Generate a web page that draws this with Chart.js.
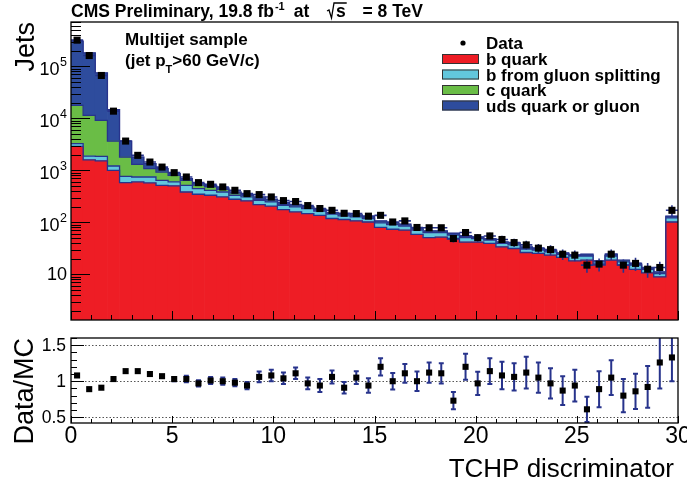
<!DOCTYPE html>
<html>
<head>
<meta charset="utf-8">
<script src="https://cdn.jsdelivr.net/npm/chart.js@4.4.0/dist/chart.umd.min.js"></script>
<style>
  html, body { margin: 0; padding: 0; background: #fff; }
  #wrap { position: relative; width: 687px; height: 486px; overflow: hidden; }
  canvas { position: absolute; left: 0; }
  #mainCanvas { top: 0; }
  #ratioCanvas { top: 330px; }
</style>
</head>
<body>
<div id="wrap">
  <canvas id="mainCanvas" width="687" height="330"></canvas>
  <canvas id="ratioCanvas" width="687" height="156"></canvas>
</div>
<script>
// Bin centres of the TCHP discriminator (bins of 0.6)
const binCenters = [0.3, 0.9, 1.5, 2.1, 2.7, 3.3, 3.9, 4.5, 5.1, 5.7,
    6.3, 6.9, 7.5, 8.1, 8.7, 9.3, 9.9, 10.5, 11.1, 11.7,
    12.3, 12.9, 13.5, 14.1, 14.7, 15.3, 15.9, 16.5, 17.1, 17.7,
    18.3, 18.9, 19.5, 20.1, 20.7, 21.3, 21.9, 22.5, 23.1, 23.7,
    24.3, 24.9, 25.5, 26.1, 26.7, 27.3, 27.9, 28.5, 29.1, 29.7];

// Stacked MC components (jets per bin)
const bQuark = [2900, 1600, 1530, 1005, 583, 600, 574, 518, 503, 385,
    348, 333, 309, 279, 259, 221, 205, 177, 159, 148,
    137, 119, 114, 107, 102, 80, 74, 71, 59, 51,
    52, 48, 42, 42, 39.4, 33.9, 31.5, 26.4, 25.3, 23.5,
    21.2, 18.2, 18.8, 15.1, 18.8, 15.1, 12.5, 10.7, 9.0, 102];
const bGluonSplit = [370, 290, 340, 211, 188, 148, 174, 128, 97, 133,
    100, 82, 76, 54, 50, 46, 43, 37, 40, 37,
    29, 25, 20, 21, 17, 18, 17, 14, 12, 13,
    12, 9, 9, 7, 6.1, 5.5, 5.5, 4.2, 4.0, 3.7,
    3.3, 4.2, 3.6, 2.4, 3.6, 2.4, 2.6, 2.3, 1.4, 20];
const cQuark = [14500, 9530, 7290, 2454, 1039, 562, 335, 285, 205, 128,
    75, 70, 50, 35, 22, 12, 10, 8, 8, 6,
    5, 4, 4, 4, 3, 3, 3, 3, 2, 2,
    2, 2, 2, 1.3, 1.2, 1.0, 1.2, 1.1, 0.8, 0.7,
    0.5, 0.4, 0.7, 0.3, 0.7, 0.5, 0.4, 0.2, 0.3, 3];
const udsGluon = [290000, 170600, 65840, 11030, 1860, 500, 267, 152, 63, 50,
    35, 33, 25, 17, 12, 30, 22, 18, 16, 10,
    10, 8, 7, 7, 7, 6, 5, 5, 4, 3,
    3, 3, 3, 2.4, 2.3, 1.9, 2.3, 2.2, 1.4, 1.4,
    1.0, 0.7, 1.4, 0.4, 1.4, 0.8, 0.8, 0.4, 0.5, 7];

// Data
const dataCounts = [320000, 162000, 67000, 13800, 3670, 1950, 1450, 1160, 906, 748,
    583, 541, 481, 415, 358, 343, 309, 263, 252, 211,
    185, 171, 150, 148, 132, 137, 102, 107, 80, 79,
    79, 49, 64, 51, 55, 47, 41, 37, 32, 30,
    24.5, 23.5, 15.1, 15.8, 24.5, 15.1, 16.3, 12.6, 13.6, 171];

// Data/MC ratio and its uncertainty
const ratioValues = [1.08, 0.89, 0.91, 1.03, 1.14, 1.14, 1.10, 1.07, 1.03, 1.03,
    0.97, 1.01, 1.00, 0.98, 0.94, 1.06, 1.08, 1.04, 1.11, 0.97,
    0.94, 1.06, 0.91, 1.05, 0.94, 1.20, 1.00, 1.11, 1.00, 1.12,
    1.11, 0.73, 1.20, 0.97, 1.14, 1.08, 1.06, 1.12, 1.05, 0.97,
    0.87, 0.94, 0.61, 0.89, 1.05, 0.80, 0.86, 0.92, 1.26, 1.33];
const ratioErrors = [0.005, 0.005, 0.007, 0.01, 0.015, 0.02, 0.025, 0.025, 0.03, 0.045,
    0.045, 0.05, 0.05, 0.05, 0.05, 0.075, 0.08, 0.08, 0.08, 0.08,
    0.09, 0.09, 0.08, 0.09, 0.10, 0.12, 0.115, 0.13, 0.135, 0.14,
    0.14, 0.12, 0.18, 0.16, 0.18, 0.19, 0.19, 0.22, 0.21, 0.21,
    0.20, 0.22, 0.175, 0.25, 0.24, 0.23, 0.245, 0.29, 0.36, 0.33];

// Tick labels
const xTickLabels = [0, 5, 10, 15, 20, 25, 30];
const yTickExponents = [1, 2, 3, 4, 5];
const ratioTickLabels = [0.5, 1, 1.5];

const FONT = '"Liberation Sans", Arial, Helvetica, sans-serif';
const RED = '#ee1d25';
const CYAN = '#62c7dd';
const GREEN = '#6abd46';
const BLUE = '#2e4c9d';
const LINE = '#27338c';

function toXY(values) {
    return binCenters.map((x, i) => ({ x: x, y: values[i] }));
}

// Step outline on top of every stacked histogram
const outlinePlugin = {
    id: 'outline',
    afterDatasetDraw(chart, args) {
        const meta = args.meta;
        if (meta.type !== 'bar') return;
        const ctx = chart.ctx;
        const a = chart.chartArea;
        ctx.save();
        ctx.beginPath();
        ctx.rect(a.left, a.top, a.right - a.left, a.bottom - a.top);
        ctx.clip();
        ctx.strokeStyle = LINE;
        ctx.lineWidth = 1.3;
        ctx.beginPath();
        meta.data.forEach((bar, i) => {
            const p = bar.getProps(['x', 'y', 'width'], true);
            const l = p.x - p.width / 2;
            const r = p.x + p.width / 2;
            if (i === 0) ctx.moveTo(l, p.y); else ctx.lineTo(l, p.y);
            ctx.lineTo(r, p.y);
        });
        ctx.stroke();
        ctx.restore();
    },
    beforeDatasetDraw(chart, args) {
        // error bars for the data points
        if (args.meta.type !== 'line') return;
        const ctx = chart.ctx;
        const xs = chart.scales.x;
        const ys = chart.scales.y;
        const half = (xs.getPixelForValue(binCenters[1]) - xs.getPixelForValue(binCenters[0])) / 2;
        ctx.save();
        ctx.strokeStyle = LINE;
        ctx.lineWidth = 1.6;
        ctx.beginPath();
        dataCounts.forEach((v, i) => {
            const px = xs.getPixelForValue(binCenters[i]);
            const py = ys.getPixelForValue(v);
            const rel = ratioErrors[i] / ratioValues[i];
            ctx.moveTo(px - half, py);
            ctx.lineTo(px + half, py);
            ctx.moveTo(px, ys.getPixelForValue(v * (1 + rel)));
            ctx.lineTo(px, ys.getPixelForValue(v * (1 - rel)));
        });
        ctx.stroke();
        ctx.restore();
    },
    afterDraw(chart) {
        const ctx = chart.ctx;
        const a = chart.chartArea;
        const xs = chart.scales.x;
        const ys = chart.scales.y;
        ctx.save();
        ctx.strokeStyle = '#000';
        ctx.lineWidth = 1;
        ctx.beginPath();
        for (let v = 0; v <= 30; v++) {
            const px = Math.round(xs.getPixelForValue(v)) + 0.5;
            const len = v % 5 === 0 ? 9 : 5;
            ctx.moveTo(px, a.bottom);
            ctx.lineTo(px, a.bottom - len);
        }
        for (let e = 0; e <= 5; e++) {
            for (let m = 1; m <= 9; m++) {
                const v = m * Math.pow(10, e);
                if (v < ys.min || v > ys.max) continue;
                const py = Math.round(ys.getPixelForValue(v)) + 0.5;
                const len = m === 1 ? 19 : 10;
                ctx.moveTo(a.left, py);
                ctx.lineTo(a.left + len, py);
            }
        }
        ctx.stroke();
        ctx.lineWidth = 1.3;
        ctx.strokeRect(a.left, a.top, a.right - a.left, a.bottom - a.top);

        // y tick labels
        ctx.fillStyle = '#000';
        ctx.textAlign = 'right';
        ctx.textBaseline = 'middle';
        yTickExponents.forEach(e => {
            const py = ys.getPixelForValue(Math.pow(10, e));
            if (e === 1) {
                ctx.font = '18px ' + FONT;
                ctx.fillText('10', 67, py + 1);
            } else {
                ctx.font = '12.5px ' + FONT;
                const s = String(e);
                const w = ctx.measureText(s).width;
                ctx.fillText(s, 67, py - 3.5);
                ctx.font = '18px ' + FONT;
                ctx.fillText('10', 67 - w - 0.5, py + 3.3);
            }
        });

        // y axis title
        ctx.save();
        ctx.translate(34, 22);
        ctx.rotate(-Math.PI / 2);
        ctx.textAlign = 'right';
        ctx.textBaseline = 'alphabetic';
        ctx.font = '27px ' + FONT;
        ctx.fillText('Jets', 0, 0);
        ctx.restore();

        // title
        ctx.textAlign = 'left';
        ctx.textBaseline = 'alphabetic';
        ctx.font = 'bold 17.5px ' + FONT;
        ctx.fillText('CMS Preliminary, 19.8 fb', 71, 17);
        let tx = 71 + ctx.measureText('CMS Preliminary, 19.8 fb').width;
        ctx.font = 'bold 11px ' + FONT;
        ctx.fillText('-1', tx + 1, 10);
        tx += ctx.measureText('-1').width + 1;
        ctx.font = 'bold 17.5px ' + FONT;
        ctx.fillText('at', tx + 9, 17);
        // square root sign over s
        const sw = ctx.measureText('s').width;
        const rx = 327;
        ctx.lineWidth = 1.3;
        ctx.beginPath();
        ctx.moveTo(rx, 11);
        ctx.lineTo(rx + 2, 10);
        ctx.lineTo(rx + 4.5, 18);
        ctx.lineTo(rx + 7, 3);
        ctx.lineTo(rx + 9 + sw + 1, 3);
        ctx.stroke();
        ctx.fillText('s', rx + 9, 17);
        ctx.textAlign = 'right';
        ctx.fillText('= 8 TeV', 423, 17);
        ctx.textAlign = 'left';

        // sample text
        ctx.font = 'bold 17px ' + FONT;
        ctx.fillText('Multijet sample', 125, 45);
        ctx.fillText('(jet p', 125, 66);
        let px2 = 125 + ctx.measureText('(jet p').width;
        ctx.font = 'bold 11px ' + FONT;
        ctx.fillText('T', px2, 73);
        px2 += ctx.measureText('T').width;
        ctx.font = 'bold 17px ' + FONT;
        ctx.fillText('>60 GeV/c)', px2, 66);

        // legend
        const rows = [43, 59, 74.5, 90, 105.5];
        ctx.fillStyle = '#000';
        ctx.beginPath();
        ctx.arc(463, rows[0], 2.6, 0, Math.PI * 2);
        ctx.fill();
        ctx.fillText('Data', 486, rows[0] + 6);
        const bars = chart.data.datasets.filter(d => d.type !== 'line');
        bars.forEach((d, i) => {
            const cy = rows[i + 1];
            ctx.fillStyle = d.backgroundColor;
            ctx.fillRect(442, cy - 5, 37, 10);
            ctx.strokeStyle = '#333';
            ctx.lineWidth = 1;
            ctx.strokeRect(442.5, cy - 4.5, 36, 9);
            ctx.fillStyle = '#000';
            ctx.fillText(d.label, 486, cy + 6);
        });
        ctx.restore();
    }
};

new Chart(document.getElementById('mainCanvas'), {
    type: 'bar',
    data: {
        datasets: [
            { label: 'b quark', data: toXY(bQuark), backgroundColor: RED },
            { label: 'b from gluon splitting', data: toXY(bGluonSplit), backgroundColor: CYAN },
            { label: 'c quark', data: toXY(cQuark), backgroundColor: GREEN },
            { label: 'uds quark or gluon', data: toXY(udsGluon), backgroundColor: BLUE },
            {
                type: 'line', label: 'Data', data: toXY(dataCounts), showLine: false,
                pointStyle: 'rect', pointRadius: 5, pointBackgroundColor: '#000',
                pointBorderWidth: 0, order: -1, stack: 'data'
            }
        ]
    },
    options: {
        responsive: false,
        animation: false,
        events: [],
        layout: { padding: { left: 71, right: 9, top: 22, bottom: 10 } },
        datasets: { bar: { barPercentage: 1, categoryPercentage: 1, borderWidth: 0 } },
        scales: {
            x: { type: 'linear', min: 0, max: 30, stacked: true, offset: false, display: false },
            y: { type: 'logarithmic', min: 1.33, max: 7.15e5, stacked: true, display: false }
        },
        plugins: { legend: { display: false }, tooltip: { enabled: false } }
    },
    plugins: [outlinePlugin]
});

// Ratio panel
const ratioPlugin = {
    id: 'ratioDecor',
    beforeDatasetsDraw(chart) {
        const ctx = chart.ctx;
        const a = chart.chartArea;
        const xs = chart.scales.x;
        const ys = chart.scales.y;
        ctx.save();
        ctx.strokeStyle = '#555';
        ctx.lineWidth = 1;
        ctx.setLineDash([1.5, 2]);
        ctx.beginPath();
        ratioTickLabels.forEach(v => {
            const py = Math.round(ys.getPixelForValue(v)) + 0.5;
            ctx.moveTo(a.left, py);
            ctx.lineTo(a.right, py);
        });
        ctx.stroke();
        ctx.setLineDash([]);
        ctx.beginPath();
        ctx.rect(a.left, a.top, a.right - a.left, a.bottom - a.top);
        ctx.clip();
        ctx.strokeStyle = LINE;
        ctx.lineWidth = 2;
        ctx.beginPath();
        ratioValues.forEach((r, i) => {
            const px = xs.getPixelForValue(binCenters[i]);
            const y1 = ys.getPixelForValue(r + ratioErrors[i]);
            const y2 = ys.getPixelForValue(r - ratioErrors[i]);
            if (y2 - y1 < 4) return;
            ctx.moveTo(px, y1);
            ctx.lineTo(px, y2);
            ctx.moveTo(px - 2.5, y1);
            ctx.lineTo(px + 2.5, y1);
            ctx.moveTo(px - 2.5, y2);
            ctx.lineTo(px + 2.5, y2);
        });
        ctx.stroke();
        ctx.restore();
    },
    afterDraw(chart) {
        const ctx = chart.ctx;
        const a = chart.chartArea;
        const xs = chart.scales.x;
        const ys = chart.scales.y;
        ctx.save();
        ctx.strokeStyle = '#000';
        ctx.lineWidth = 1;
        ctx.beginPath();
        for (let v = 0; v <= 30; v++) {
            const px = Math.round(xs.getPixelForValue(v)) + 0.5;
            const len = v % 5 === 0 ? 7 : 4;
            ctx.moveTo(px, a.bottom);
            ctx.lineTo(px, a.bottom - len);
        }
        for (let k = 5; k <= 16; k++) {
            const v = k / 10;
            const py = Math.round(ys.getPixelForValue(v)) + 0.5;
            const len = k % 5 === 0 ? 13 : 6;
            ctx.moveTo(a.left, py);
            ctx.lineTo(a.left + len, py);
        }
        ctx.stroke();
        ctx.lineWidth = 1.3;
        ctx.strokeRect(a.left, a.top, a.right - a.left, a.bottom - a.top);

        ctx.fillStyle = '#000';
        ctx.textAlign = 'right';
        ctx.textBaseline = 'middle';
        ctx.font = '17.5px ' + FONT;
        ratioTickLabels.forEach(v => {
            ctx.fillText(String(v), 66, ys.getPixelForValue(v) + 1);
        });

        ctx.textAlign = 'center';
        ctx.textBaseline = 'alphabetic';
        ctx.font = '23px ' + FONT;
        xTickLabels.forEach(v => {
            ctx.fillText(String(v), xs.getPixelForValue(v), 113);
        });

        ctx.textAlign = 'right';
        ctx.font = '26px ' + FONT;
        ctx.fillText('TCHP discriminator', 674, 147);

        ctx.save();
        ctx.translate(33, a.top);
        ctx.rotate(-Math.PI / 2);
        ctx.textAlign = 'right';
        ctx.font = '27px ' + FONT;
        ctx.fillText('Data/MC', 0, 0);
        ctx.restore();
        ctx.restore();
    }
};

new Chart(document.getElementById('ratioCanvas'), {
    type: 'scatter',
    data: {
        datasets: [{
            label: 'Data/MC',
            data: toXY(ratioValues),
            pointStyle: 'rect',
            pointRadius: 4.3,
            pointBackgroundColor: '#000',
            pointBorderWidth: 0
        }]
    },
    options: {
        responsive: false,
        animation: false,
        events: [],
        layout: { padding: { left: 71, right: 9, top: 8, bottom: 63 } },
        scales: {
            x: { type: 'linear', min: 0, max: 30, display: false },
            y: { type: 'linear', min: 0.42, max: 1.6, display: false }
        },
        plugins: { legend: { display: false }, tooltip: { enabled: false } }
    },
    plugins: [ratioPlugin]
});
</script>
</body>
</html>
